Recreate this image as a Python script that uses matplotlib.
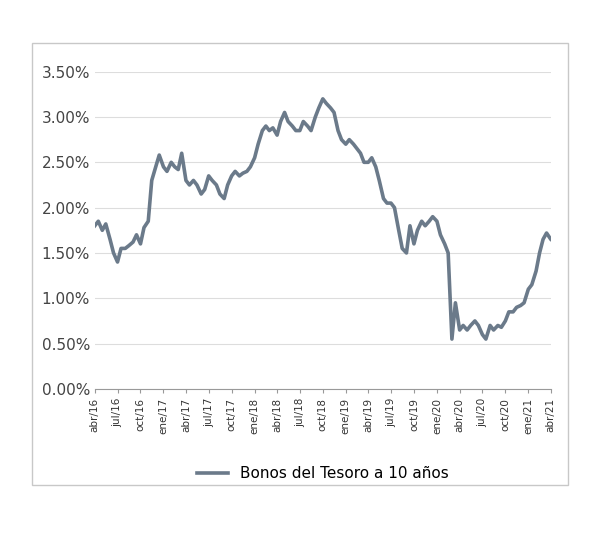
import matplotlib.pyplot as plt
import matplotlib.dates as mdates
import pandas as pd
import numpy as np

# semi-monthly readings, Apr 2016 .. Apr 2021 (percent)
start = "2016-04-01"
yields = [
    1.80, 1.85, 1.75, 1.82, 1.65, 1.50,            # abr-jun 16
    1.40, 1.55, 1.55, 1.58, 1.62, 1.70,            # jul-sep 16
    1.60, 1.78, 1.85, 2.30, 2.45, 2.58,            # oct-dic 16
    2.45, 2.40, 2.50, 2.45, 2.42, 2.60,            # ene-mar 17
    2.30, 2.25, 2.30, 2.25, 2.15, 2.20,            # abr-jun 17
    2.35, 2.30, 2.25, 2.15, 2.10, 2.25,            # jul-sep 17
    2.35, 2.40, 2.35, 2.38, 2.40, 2.45,            # oct-dic 17
    2.55, 2.70, 2.85, 2.90, 2.85, 2.88,            # ene-mar 18
    2.80, 2.95, 3.05, 2.95, 2.90, 2.85,            # abr-jun 18
    2.85, 2.95, 2.90, 2.85, 3.00, 3.10,            # jul-sep 18
    3.20, 3.15, 3.10, 3.05, 2.85, 2.75,            # oct-dic 18
    2.70, 2.75, 2.70, 2.65, 2.60, 2.50,            # ene-mar 19
    2.50, 2.55, 2.45, 2.30, 2.10, 2.05,            # abr-jun 19
    2.05, 2.00, 1.75, 1.55, 1.50, 1.80,            # jul-sep 19
    1.60, 1.75, 1.85, 1.80, 1.85, 1.90,            # oct-dic 19
    1.85, 1.70, 1.60, 1.50, 0.55, 0.95,            # ene-mar 20
    0.65, 0.70, 0.65, 0.70, 0.75, 0.70,            # abr-jun 20
    0.60, 0.55, 0.70, 0.65, 0.70, 0.68,            # jul-sep 20
    0.75, 0.85, 0.85, 0.90, 0.92, 0.95,            # oct-dic 20
    1.10, 1.15, 1.30, 1.50, 1.65, 1.72,            # ene-mar 21
    1.65, 1.62,                                    # abr 21
]
dates = pd.date_range(start, periods=len(yields), freq="SMS")
month_names = ["ene", "feb", "mar", "abr", "may", "jun",
               "jul", "ago", "sep", "oct", "nov", "dic"]

fig = plt.figure(figsize=(6.0, 5.47), dpi=100)
ax = fig.add_axes([0.158, 0.289, 0.76, 0.58])
border = plt.Rectangle((0.053, 0.113), 0.894, 0.808, transform=fig.transFigure,
                       fill=False, edgecolor="#c8c8c8", linewidth=1)
fig.patches.append(border)

ax.plot(dates, yields, color="#6b7a8a", linewidth=2.6, label="Bonos del Tesoro a 10 años")
ax.set_ylim(0, 3.5)
ax.set_yticks(np.arange(0, 3.51, 0.5))
ax.set_yticklabels([f"{v:.2f}%" for v in np.arange(0, 3.51, 0.5)])
ax.set_xlim(pd.Timestamp("2016-04-01"), pd.Timestamp("2021-04-01"))
ticks = pd.date_range("2016-04-01", "2021-04-01", freq="3MS")
ax.set_xticks(ticks)
ax.set_xticklabels([f"{month_names[t.month - 1]}/{t.strftime('%y')}" for t in ticks],
                   rotation=90, fontsize=7.5, color="#333333")
ax.tick_params(axis="y", labelsize=11, colors="#444444", length=0)
ax.tick_params(axis="x", length=3, color="#999999")
ax.grid(axis="y", color="#dddddd", linewidth=0.8)
for s in ["top", "right", "left"]:
    ax.spines[s].set_visible(False)
ax.spines["bottom"].set_color("#999999")
ax.legend(loc="upper center", bbox_to_anchor=(0.5, -0.2), frameon=False, fontsize=11,
          handlelength=2)
fig.savefig("out.png")
